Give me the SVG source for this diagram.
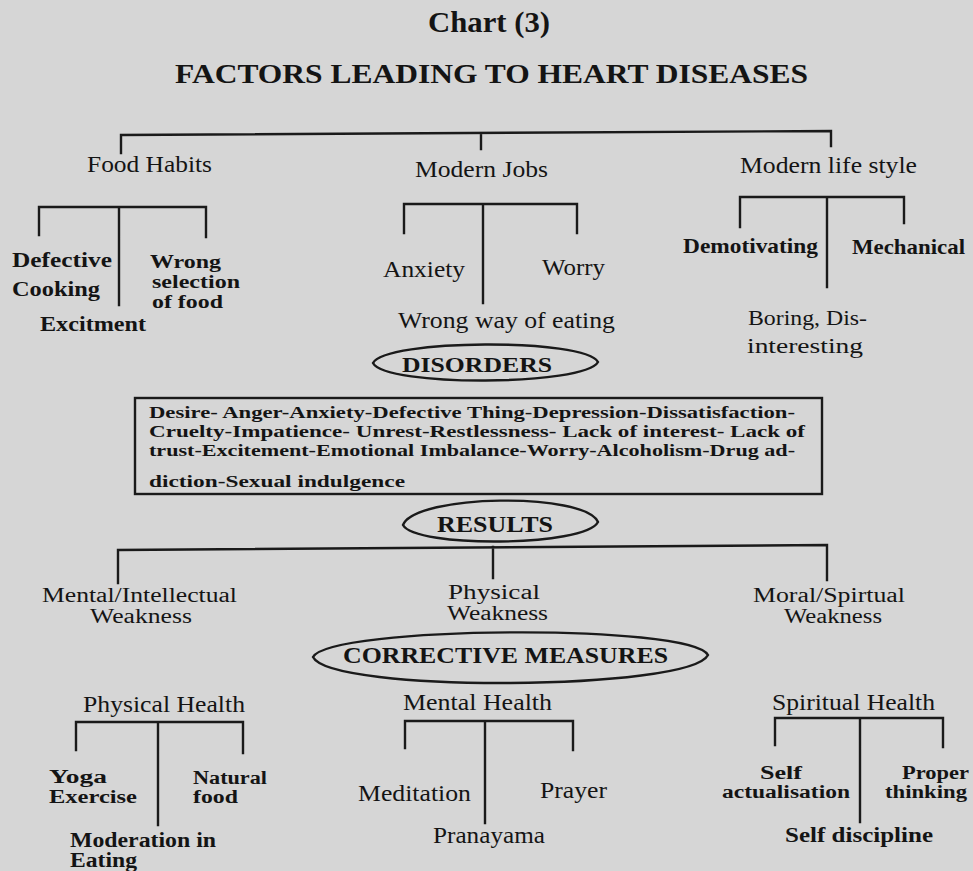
<svg xmlns="http://www.w3.org/2000/svg" width="973" height="871" viewBox="0 0 973 871">
<style>
text{font-family:"Liberation Serif","Times New Roman",serif;fill:#141414}
.b{font-weight:bold}
.s24{font-size:24px}.s23{font-size:23px}.s22{font-size:22px}.s21{font-size:21px}.s20{font-size:20px}.s19{font-size:19px}.s18{font-size:18px}.s16{font-size:16px}
.ln{fill:none;stroke:#1a1a1a;stroke-width:2.4;stroke-linecap:square}
.shape{fill:none;stroke:#1a1a1a;stroke-width:2.4}
</style>
<rect width="973" height="871" fill="#d6d6d6"/>
<g id="title">
<text class="b" font-size="30" x="428" y="32" textLength="122" lengthAdjust="spacingAndGlyphs">Chart (3)</text>
<text class="b" font-size="28" x="175" y="83" textLength="633" lengthAdjust="spacingAndGlyphs">FACTORS LEADING TO HEART DISEASES</text>
</g>
<g id="connectors">
<path class="ln" d="M121,153 V135 L831,131 V146 M481,133 V149"/>
<path class="ln" d="M39,235 V207 H206 V237 M119,207 V305"/>
<path class="ln" d="M404,233 V204 H577 V233 M483,204 V303"/>
<path class="ln" d="M740,227 V197 H904 V223 M827,197 V287"/>
<path class="ln" d="M118,583 V550 L827,545 V580 M493,547 V578"/>
<path class="ln" d="M76,750 V722 H243 V753 M158,722 V825"/>
<path class="ln" d="M405,748 V721 H573 V750 M485,721 V823"/>
<path class="ln" d="M775,745 V718 H943 V747 M860,718 V822"/>
</g>
<g id="food-habits"><text class="s24" x="87" y="172" textLength="125" lengthAdjust="spacingAndGlyphs">Food Habits</text></g>
<g id="modern-jobs"><text class="s24" x="415" y="177" textLength="133" lengthAdjust="spacingAndGlyphs">Modern Jobs</text></g>
<g id="modern-life-style"><text class="s24" x="740" y="173" textLength="177" lengthAdjust="spacingAndGlyphs">Modern life style</text></g>
<g id="defective-cooking">
<text class="b s22" x="12" y="267" textLength="100" lengthAdjust="spacingAndGlyphs">Defective</text>
<text class="b s22" x="12" y="296" textLength="88" lengthAdjust="spacingAndGlyphs">Cooking</text>
</g>
<g id="wrong-selection">
<text class="b s18" x="150" y="268" textLength="71" lengthAdjust="spacingAndGlyphs">Wrong</text>
<text class="b s18" x="152" y="288" textLength="88" lengthAdjust="spacingAndGlyphs">selection</text>
<text class="b s18" x="152" y="308" textLength="71" lengthAdjust="spacingAndGlyphs">of food</text>
</g>
<g id="excitment"><text class="b s22" x="40" y="331" textLength="106" lengthAdjust="spacingAndGlyphs">Excitment</text></g>
<g id="anxiety"><text class="s23" x="383" y="277" textLength="82" lengthAdjust="spacingAndGlyphs">Anxiety</text></g>
<g id="worry"><text class="s23" x="542" y="275" textLength="63" lengthAdjust="spacingAndGlyphs">Worry</text></g>
<g id="wrong-way"><text class="s23" x="398" y="328" textLength="217" lengthAdjust="spacingAndGlyphs">Wrong way of eating</text></g>
<g id="demotivating"><text class="b s22" x="683" y="253" textLength="135" lengthAdjust="spacingAndGlyphs">Demotivating</text></g>
<g id="mechanical"><text class="b s22" x="852" y="254" textLength="113" lengthAdjust="spacingAndGlyphs">Mechanical</text></g>
<g id="boring">
<text class="s22" x="748" y="325" textLength="119" lengthAdjust="spacingAndGlyphs">Boring, Dis-</text>
<text class="s22" x="747" y="353" textLength="116" lengthAdjust="spacingAndGlyphs">interesting</text>
</g>
<g id="disorders">
<path class="shape" d="M373,363 C385,339 585,338 598,362 C585,386 385,387 373,363 Z"/>
<text class="b s22" x="402" y="372" textLength="150" lengthAdjust="spacingAndGlyphs">DISORDERS</text>
</g>
<g id="disorders-list">
<rect class="shape" x="135" y="398" width="687" height="96"/>
<text class="b s16" x="149" y="418" textLength="646" lengthAdjust="spacingAndGlyphs">Desire- Anger-Anxiety-Defective Thing-Depression-Dissatisfaction-</text>
<text class="b s16" x="149" y="437" textLength="656" lengthAdjust="spacingAndGlyphs">Cruelty-Impatience- Unrest-Restlessness- Lack of interest- Lack of</text>
<text class="b s16" x="149" y="456" textLength="646" lengthAdjust="spacingAndGlyphs">trust-Excitement-Emotional Imbalance-Worry-Alcoholism-Drug ad-</text>
<text class="b s16" x="149" y="487" textLength="256" lengthAdjust="spacingAndGlyphs">diction-Sexual indulgence</text>
</g>
<g id="results">
<path class="shape" d="M403,525 C415,494 585,492 598,522 C585,547 415,548 403,525 Z"/>
<text class="b s23" x="437" y="532" textLength="116" lengthAdjust="spacingAndGlyphs">RESULTS</text>
</g>
<g id="mental-weakness">
<text class="s20" x="42" y="602" textLength="195" lengthAdjust="spacingAndGlyphs">Mental/Intellectual</text>
<text class="s20" x="90" y="623" textLength="102" lengthAdjust="spacingAndGlyphs">Weakness</text>
</g>
<g id="physical-weakness">
<text class="s20" x="448" y="599" textLength="92" lengthAdjust="spacingAndGlyphs">Physical</text>
<text class="s20" x="447" y="620" textLength="101" lengthAdjust="spacingAndGlyphs">Weakness</text>
</g>
<g id="moral-weakness">
<text class="s20" x="753" y="602" textLength="152" lengthAdjust="spacingAndGlyphs">Moral/Spirtual</text>
<text class="s20" x="784" y="623" textLength="98" lengthAdjust="spacingAndGlyphs">Weakness</text>
</g>
<g id="corrective-measures">
<path class="shape" d="M313,657 C330,626 690,623 708,655 C690,691 330,693 313,657 Z"/>
<text class="b s23" x="343" y="663" textLength="325" lengthAdjust="spacingAndGlyphs">CORRECTIVE MEASURES</text>
</g>
<g id="physical-health"><text class="s24" x="83" y="712" textLength="162" lengthAdjust="spacingAndGlyphs">Physical Health</text></g>
<g id="yoga-exercise">
<text class="b s18" x="49" y="783" textLength="58" lengthAdjust="spacingAndGlyphs">Yoga</text>
<text class="b s18" x="49" y="803" textLength="88" lengthAdjust="spacingAndGlyphs">Exercise</text>
</g>
<g id="natural-food">
<text class="b s18" x="193" y="784" textLength="74" lengthAdjust="spacingAndGlyphs">Natural</text>
<text class="b s18" x="193" y="803" textLength="45" lengthAdjust="spacingAndGlyphs">food</text>
</g>
<g id="moderation">
<text class="b s20" x="70" y="847" textLength="146" lengthAdjust="spacingAndGlyphs">Moderation in</text>
<text class="b s20" x="70" y="867" textLength="67" lengthAdjust="spacingAndGlyphs">Eating</text>
</g>
<g id="mental-health"><text class="s24" x="403" y="710" textLength="149" lengthAdjust="spacingAndGlyphs">Mental Health</text></g>
<g id="meditation"><text class="s23" x="358" y="801" textLength="113" lengthAdjust="spacingAndGlyphs">Meditation</text></g>
<g id="prayer"><text class="s23" x="540" y="798" textLength="67" lengthAdjust="spacingAndGlyphs">Prayer</text></g>
<g id="pranayama"><text class="s23" x="433" y="843" textLength="112" lengthAdjust="spacingAndGlyphs">Pranayama</text></g>
<g id="spiritual-health"><text class="s24" x="772" y="710" textLength="163" lengthAdjust="spacingAndGlyphs">Spiritual Health</text></g>
<g id="self-actualisation">
<text class="b s18" x="760" y="779" textLength="42" lengthAdjust="spacingAndGlyphs">Self</text>
<text class="b s18" x="722" y="798" textLength="128" lengthAdjust="spacingAndGlyphs">actualisation</text>
</g>
<g id="proper-thinking">
<text class="b s18" x="902" y="779" textLength="67" lengthAdjust="spacingAndGlyphs">Proper</text>
<text class="b s18" x="885" y="798" textLength="82" lengthAdjust="spacingAndGlyphs">thinking</text>
</g>
<g id="self-discipline"><text class="b s22" x="785" y="842" textLength="148" lengthAdjust="spacingAndGlyphs">Self discipline</text></g>
</svg>
